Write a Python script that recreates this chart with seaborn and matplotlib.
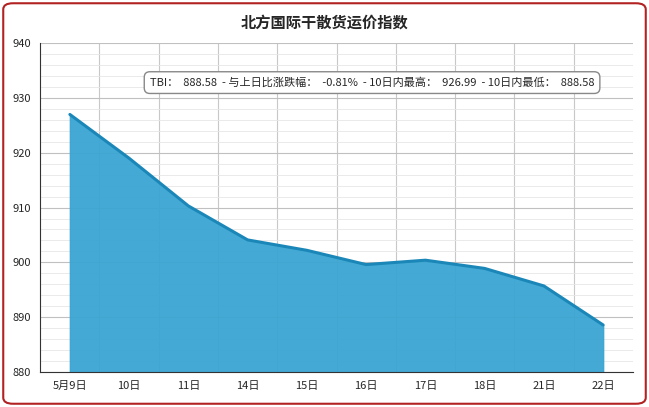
import matplotlib
matplotlib.use("Agg")
import matplotlib.pyplot as plt
import seaborn as sns
import pandas as pd
import numpy as np
from matplotlib.patches import FancyBboxPatch

dates = ["5月9日", "10日", "11日", "14日", "15日", "16日", "17日", "18日", "21日", "22日"]
values = [926.99, 919.0, 910.3, 904.1, 902.2, 899.6, 900.4, 898.9, 895.7, 888.58]
title = "北方国际干散货运价指数"
info = "TBI：  888.58  - 与上日比涨跌幅：  -0.81%  - 10日内最高：  926.99  - 10日内最低：  888.58"

sns.set_style("white")
plt.rcParams['font.family'] = ['Noto Sans CJK SC', 'DejaVu Sans']

df = pd.DataFrame({"date": dates, "value": values, "x": range(len(dates))})

fig = plt.figure(figsize=(6.49, 4.07), dpi=100)
fig.patches.append(FancyBboxPatch((0.005, 0.008), 0.99, 0.984, boxstyle="round,pad=0,rounding_size=0.015",
                                  transform=fig.transFigure, fill=False, edgecolor="#b22222", linewidth=1.5))
ax = fig.add_axes([0.062, 0.086, 0.913, 0.808])

ax.fill_between(df["x"], 880, df["value"], color="#3aa6d3", alpha=0.95, zorder=2)
sns.lineplot(data=df, x="x", y="value", ax=ax, color="#1b87b8", linewidth=2.2, zorder=3)

ax.set_xlim(-0.5, 9.5)
ax.set_ylim(880, 940)
ax.set_yticks(range(880, 941, 10))
ax.set_yticks(np.arange(880, 941, 2), minor=True)
ax.set_xticks(range(len(dates)))
ax.set_xticklabels(dates)
ax.set_xticks(np.arange(0.5, 9.5, 1), minor=True)
ax.grid(True, which="major", axis="y", color="#c0c0c0", linewidth=0.8)
ax.grid(True, which="minor", axis="y", color="#e6e6e6", linewidth=0.6)
ax.grid(True, which="minor", axis="x", color="#c8c8c8", linewidth=0.8)
ax.tick_params(axis="both", labelsize=8, length=3)
ax.tick_params(which="minor", length=0)
ax.set_xlabel("")
ax.set_ylabel("")
for s in ["top", "right"]:
    ax.spines[s].set_visible(False)
ax.spines["left"].set_color("#333333")
ax.spines["bottom"].set_color("#333333")

fig.text(0.5, 0.945, title, ha="center", va="center", fontsize=11, fontweight="bold")
ax.text(0.56, 0.88, info, transform=ax.transAxes, ha="center", va="center", fontsize=8, zorder=5,
        bbox=dict(boxstyle="round,pad=0.5", facecolor="white", edgecolor="#888888"))

fig.savefig("out.png", dpi=100)
